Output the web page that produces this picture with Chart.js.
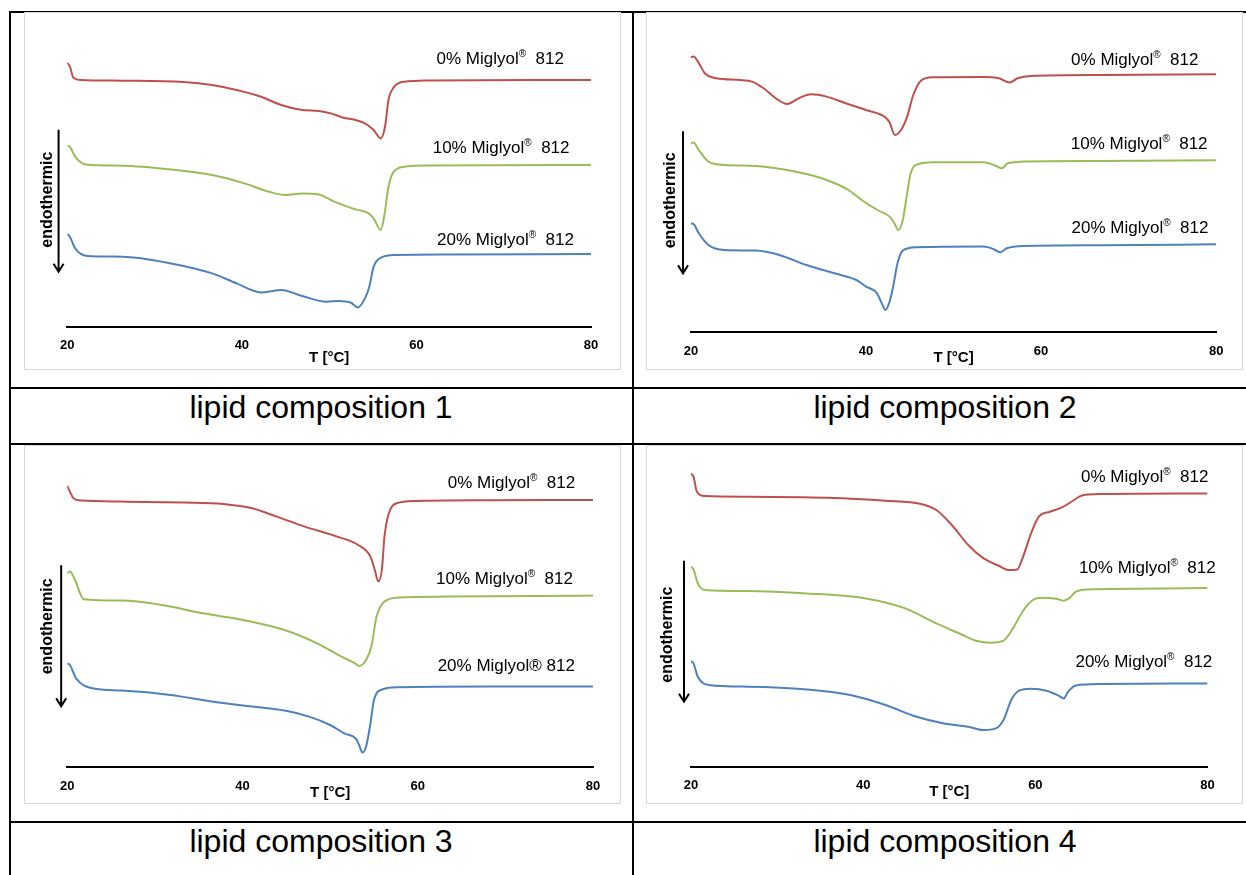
<!DOCTYPE html>
<html>
<head>
<meta charset="utf-8">
<script src="https://cdn.jsdelivr.net/npm/chart.js@4.4.0/dist/chart.umd.min.js"></script>
<style>
  body { margin: 0; background: #fff; }
  #page { position: relative; width: 1246px; height: 875px; overflow: hidden; font-family: "Liberation Sans", Arial, sans-serif; }
  .ln { position: absolute; background: #000; }
  .box { position: absolute; border: 1px solid #d9d9d9; box-sizing: border-box; }
  .cv { position: absolute; }
  .cap { position: absolute; text-align: center; font-size: 32px; line-height: 32px; color: #000; }
</style>
</head>
<body>
<div id="page">
  <!-- lineas de la tabla -->
  <div class="ln" style="left:9px;top:11px;width:1237px;height:2px"></div>
  <div class="ln" style="left:9px;top:11px;width:2px;height:864px"></div>
  <div class="ln" style="left:632px;top:11px;width:2px;height:864px"></div>
  <div class="ln" style="left:9px;top:387px;width:1237px;height:2px"></div>
  <div class="ln" style="left:9px;top:443px;width:1237px;height:2px"></div>
  <div class="ln" style="left:9px;top:821px;width:1237px;height:2px"></div>

  <div class="box" style="left:24px;top:12px;width:597px;height:358px"></div>
  <div class="box" style="left:646px;top:12px;width:597px;height:358px"></div>
  <div class="box" style="left:24px;top:445px;width:597px;height:359px"></div>
  <div class="box" style="left:646px;top:445px;width:597px;height:359px"></div>

  <canvas id="c1" class="cv" width="596" height="356" style="left:24px;top:13px"></canvas>
  <canvas id="c2" class="cv" width="595" height="356" style="left:647px;top:13px"></canvas>
  <canvas id="c3" class="cv" width="596" height="357" style="left:24px;top:446px"></canvas>
  <canvas id="c4" class="cv" width="595" height="357" style="left:647px;top:446px"></canvas>

  <div class="cap" id="cap1" style="left:10px;top:391px;width:622px"></div>
  <div class="cap" id="cap2" style="left:634px;top:391px;width:622px"></div>
  <div class="cap" id="cap3" style="left:10px;top:825px;width:622px"></div>
  <div class="cap" id="cap4" style="left:634px;top:825px;width:622px"></div>
</div>

<script>
// Datos: [T en °C, flujo de calor (u.a.)]
const tempTicks = [20, 40, 60, 80];
const seriesNames = ['0% Miglyol® 812', '10% Miglyol® 812', '20% Miglyol® 812'];
const captions = ['lipid composition 1', 'lipid composition 2', 'lipid composition 3', 'lipid composition 4'];
const seriesColors = ['#C0504D', '#9BBB59', '#4F81BD'];

// composicion 1
const comp1_0 = [[20,26.4],[20.3,26.0],[20.7,24.9],[21.6,24.67],[26.3,24.6],[33.3,24.47],[36.6,24.17],[39.4,23.67],[42.2,23.0],[44.5,22.17],[46.9,21.67],[48.8,21.57],[50.2,21.33],[51.6,20.9],[53.0,20.67],[54.1,20.33],[55.1,19.67],[55.9,18.83],[56.4,20.0],[56.8,22.67],[57.4,23.93],[58.6,24.5],[61.4,24.63],[73.1,24.67],[80,24.67]];
const comp1_10 = [[20,18.1],[20.3,18.0],[20.9,17.0],[22.1,16.23],[26.3,16.1],[31.9,15.73],[36.6,15.17],[40.3,14.33],[43.1,13.5],[45.0,13.17],[46.9,13.33],[48.8,13.23],[50.6,12.5],[53.0,11.73],[54.4,11.4],[55.1,10.83],[55.9,9.67],[56.3,11.0],[56.8,14.0],[57.4,15.5],[58.6,16.0],[61.4,16.13],[80,16.17]];
const comp1_20 = [[20,9.27],[20.3,9.0],[20.9,7.83],[22.3,7.07],[26.3,7.0],[31.9,6.33],[36.6,5.33],[39.4,4.33],[42.2,3.43],[44.5,3.67],[46.9,3.07],[49.7,2.5],[51.1,2.57],[52.5,2.4],[53.3,1.93],[54.1,2.83],[54.6,4.0],[55.1,6.0],[56.0,6.93],[57.6,7.17],[63.7,7.23],[80,7.27]];

// composicion 2
const comp2_0 = [[20,27.5],[20.3,27.57],[20.8,27.07],[21.6,25.9],[22.9,25.4],[25.6,25.23],[27.0,25.07],[28.3,24.4],[29.7,23.4],[31.0,22.83],[32.3,23.4],[33.7,23.8],[35.5,23.57],[37.7,22.9],[40.0,22.23],[42.2,21.5],[42.7,20.97],[43.3,19.73],[44.0,20.23],[44.7,21.57],[45.4,23.73],[46.3,25.17],[47.6,25.5],[53.4,25.53],[55.2,25.4],[56.4,24.97],[57.3,25.4],[58.8,25.63],[66.9,25.73],[80,25.8]];
const comp2_10 = [[20,18.9],[20.3,18.97],[20.9,18.23],[22.0,17.07],[23.8,16.73],[27.4,16.63],[31.9,16.07],[35.5,15.23],[38.0,14.23],[39.5,13.23],[41.3,12.23],[42.7,11.57],[43.2,10.97],[43.7,10.23],[44.2,11.23],[44.7,13.9],[45.1,15.9],[46.0,16.83],[47.6,17.0],[53.4,17.0],[54.6,16.73],[55.5,16.4],[56.2,16.9],[57.9,17.07],[66.9,17.13],[80,17.2]];
const comp2_20 = [[20,10.9],[20.3,10.83],[20.9,9.9],[22.0,8.73],[23.8,8.23],[27.4,8.17],[30.1,7.73],[33.2,6.73],[36.4,5.9],[38.9,5.23],[40.0,4.57],[41.2,3.97],[41.8,2.9],[42.2,2.23],[42.7,3.07],[43.1,4.57],[43.6,6.9],[44.2,8.17],[45.8,8.5],[53.4,8.57],[54.6,8.3],[55.3,8.0],[56.1,8.4],[57.9,8.63],[66.9,8.7],[80,8.8]];

// composicion 3
const comp3_0 = [[20,28.13],[20.3,27.57],[20.7,26.9],[21.6,26.67],[26.2,26.57],[33.2,26.47],[37.8,26.33],[41.1,25.9],[43.9,25.07],[47.1,24.07],[50.8,23.07],[53.2,22.23],[54.6,21.07],[55.1,19.73],[55.5,18.57],[55.9,19.73],[56.2,23.07],[56.7,25.4],[57.6,26.4],[59.7,26.63],[68.2,26.7],[80,26.73]];
const comp3_10 = [[20,19.4],[20.3,19.57],[20.8,18.9],[21.9,16.8],[26.2,16.67],[30.8,16.23],[35.5,15.4],[40.1,14.73],[44.8,13.73],[48.5,12.4],[51.3,11.07],[52.7,10.47],[53.3,10.13],[54.1,10.73],[54.7,12.07],[55.3,15.07],[56.2,16.57],[57.8,16.97],[63.4,17.07],[80,17.17]];
const comp3_20 = [[20,10.4],[20.3,10.23],[21.0,8.9],[22.9,7.9],[26.2,7.67],[31.8,7.23],[36.5,6.57],[41.1,6.07],[44.8,5.67],[47.6,5.07],[50.0,4.23],[51.6,3.4],[53.0,2.8],[53.3,2.23],[53.7,1.47],[54.1,2.07],[54.6,4.4],[55.0,6.73],[56.0,7.8],[57.8,8.0],[68.1,8.07],[80,8.07]];

// composicion 4
const comp4_0 = [[20,29.33],[20.3,29.0],[20.7,27.5],[21.6,27.07],[26.6,27.0],[35.7,26.9],[42.6,26.6],[46.7,26.27],[48.5,25.67],[50.3,24.17],[52.2,22.17],[54.0,20.83],[55.8,20.07],[56.9,19.67],[57.9,19.73],[58.5,20.83],[59.5,23.33],[60.4,25.0],[61.7,25.5],[63.1,25.93],[64.5,26.67],[65.4,27.13],[67.7,27.27],[80,27.33]];
const comp4_10 = [[20,20.0],[20.3,19.73],[20.8,18.33],[21.6,17.67],[26.6,17.57],[33.5,17.33],[40.3,16.83],[44.9,15.83],[48.5,14.33],[51.3,13.27],[53.1,12.6],[54.9,12.4],[56.3,12.6],[57.4,13.83],[58.5,15.5],[59.7,16.67],[60.8,16.9],[62.4,16.8],[63.3,16.6],[63.9,16.83],[64.7,17.5],[65.8,17.73],[72.2,17.8],[80,17.87]];
const comp4_20 = [[20,10.57],[20.3,10.33],[20.8,9.0],[22.1,8.17],[26.6,8.0],[33.5,7.73],[38.5,7.17],[42.6,6.17],[46.2,5.0],[49.4,4.33],[52.2,4.0],[54.0,3.67],[55.4,3.83],[56.3,4.67],[57.2,6.67],[58.1,7.6],[59.5,7.8],[61.3,7.6],[62.7,7.1],[63.3,6.83],[63.8,7.5],[64.7,8.13],[67.7,8.27],[80,8.33]];

const FONT = '"Liberation Sans", Arial, sans-serif';

// Geometria de cada grafico (pagina) y posicion de textos en unidades de datos
const panels = [
  { id: 'c1', left: 24, top: 13, w: 596, h: 356, x20: 67.3, x80: 591, axisY: 326.7,
    series: [comp1_0, comp1_10, comp1_20], plain: [false, false, false],
    labels: [[69.6, 26.7], [69.7, 17.8], [70.2, 8.6]],
    arrow: [19.0, 19.7, 5.5], endo: [17.7, 12.7], titleDy: 31 },
  { id: 'c2', left: 647, top: 13, w: 595, h: 356, x20: 690.9, x80: 1216.2, axisY: 332.3,
    series: [comp2_0, comp2_10, comp2_20], plain: [false, false, false],
    labels: [[70.7, 27.2], [71.2, 18.8], [71.3, 10.4]],
    arrow: [19.1, 20.1, 5.9], endo: [17.7, 13.2], titleDy: 26 },
  { id: 'c3', left: 24, top: 446, w: 596, h: 357, x20: 67.3, x80: 593, axisY: 767.3,
    series: [comp3_0, comp3_10, comp3_20], plain: [false, false, true],
    labels: [[70.7, 28.4], [69.9, 18.8], [70.1, 10.1]],
    arrow: [19.3, 20.2, 6.1], endo: [17.7, 14.1], titleDy: 25.5 },
  { id: 'c4', left: 647, top: 446, w: 595, h: 357, x20: 690.9, x80: 1207.6, axisY: 766.7,
    series: [comp4_0, comp4_10, comp4_20], plain: [false, false, false],
    labels: [[72.7, 28.9], [73.0, 19.8], [72.6, 10.4]],
    arrow: [19.2, 20.6, 6.5], endo: [17.3, 13.2], titleDy: 25 }
];

// Etiqueta con ® en superindice
function drawSeriesLabel(ctx, text, cx, cy, plain) {
  const big = '17px ' + FONT, small = '10px ' + FONT;
  ctx.fillStyle = '#000';
  ctx.textBaseline = 'middle';
  if (plain) {
    ctx.font = big; ctx.textAlign = 'center';
    ctx.fillText(text, cx, cy);
    return;
  }
  const parts = text.split('®');
  const post = ' ' + parts[1];
  ctx.textAlign = 'left';
  ctx.font = big;
  const w1 = ctx.measureText(parts[0]).width;
  const w3 = ctx.measureText(post).width;
  ctx.font = small;
  const w2 = ctx.measureText('®').width;
  let x = cx - (w1 + w2 + w3) / 2;
  ctx.font = big; ctx.fillText(parts[0], x, cy); x += w1;
  ctx.font = small; ctx.fillText('®', x, cy - 5); x += w2;
  ctx.font = big; ctx.fillText(post, x, cy);
}

const decorPlugin = {
  id: 'decor',
  afterDraw(chart, args, opts) {
    const ctx = chart.ctx, xs = chart.scales.x, ys = chart.scales.y, area = chart.chartArea;
    ctx.save();
    opts.labels.forEach(function (p, i) {
      drawSeriesLabel(ctx, seriesNames[i], xs.getPixelForValue(p[0]), ys.getPixelForValue(p[1]), opts.plain[i]);
    });
    // titulo del eje
    ctx.font = 'bold 15px ' + FONT;
    ctx.textAlign = 'center';
    ctx.textBaseline = 'middle';
    ctx.fillStyle = '#000';
    ctx.fillText('T [°C]', (area.left + area.right) / 2, area.bottom + opts.titleDy);
    // flecha endotermica
    const ax = xs.getPixelForValue(opts.arrow[0]);
    const ay1 = ys.getPixelForValue(opts.arrow[1]);
    const ay2 = ys.getPixelForValue(opts.arrow[2]);
    ctx.strokeStyle = '#000';
    ctx.lineWidth = 2;
    ctx.beginPath();
    ctx.moveTo(ax, ay1); ctx.lineTo(ax, ay2);
    ctx.moveTo(ax - 5, ay2 - 8); ctx.lineTo(ax, ay2); ctx.lineTo(ax + 5, ay2 - 8);
    ctx.stroke();
    ctx.translate(xs.getPixelForValue(opts.endo[0]), ys.getPixelForValue(opts.endo[1]));
    ctx.rotate(-Math.PI / 2);
    ctx.font = 'bold 16px ' + FONT;
    ctx.fillText('endothermic', 0, 0);
    ctx.restore();
  }
};

panels.forEach(function (p, k) {
  document.getElementById('cap' + (k + 1)).textContent = captions[k];
  const xh = (p.top + p.h) - p.axisY;
  new Chart(document.getElementById(p.id), {
    type: 'line',
    data: {
      datasets: p.series.map(function (s, i) {
        return {
          label: seriesNames[i],
          data: s.map(function (pt) { return { x: pt[0], y: pt[1] }; }),
          borderColor: seriesColors[i],
          borderWidth: 2,
          pointRadius: 0,
          fill: false,
          tension: 0.4,
          cubicInterpolationMode: 'monotone'
        };
      })
    },
    options: {
      responsive: false,
      animation: false,
      devicePixelRatio: 1,
      layout: {
        padding: { left: p.x20 - p.left, right: (p.left + p.w) - p.x80, top: (p.axisY - 300) - p.top, bottom: 0 }
      },
      plugins: {
        legend: { display: false },
        tooltip: { enabled: false },
        decor: { labels: p.labels, plain: p.plain, arrow: p.arrow, endo: p.endo, titleDy: p.titleDy }
      },
      scales: {
        x: {
          type: 'linear', min: 20, max: 80,
          afterBuildTicks: function (s) { s.ticks = tempTicks.map(function (v) { return { value: v }; }); },
          afterFit: function (s) { s.height = xh; },
          ticks: { font: { family: FONT, size: 13, weight: 'bold' }, color: '#000', padding: 11, maxRotation: 0 },
          grid: { display: false, drawTicks: false },
          border: { display: true, color: '#000', width: 2 }
        },
        y: { display: false, min: 0, max: 30 }
      }
    },
    plugins: [decorPlugin]
  });
});
</script>
</body>
</html>
